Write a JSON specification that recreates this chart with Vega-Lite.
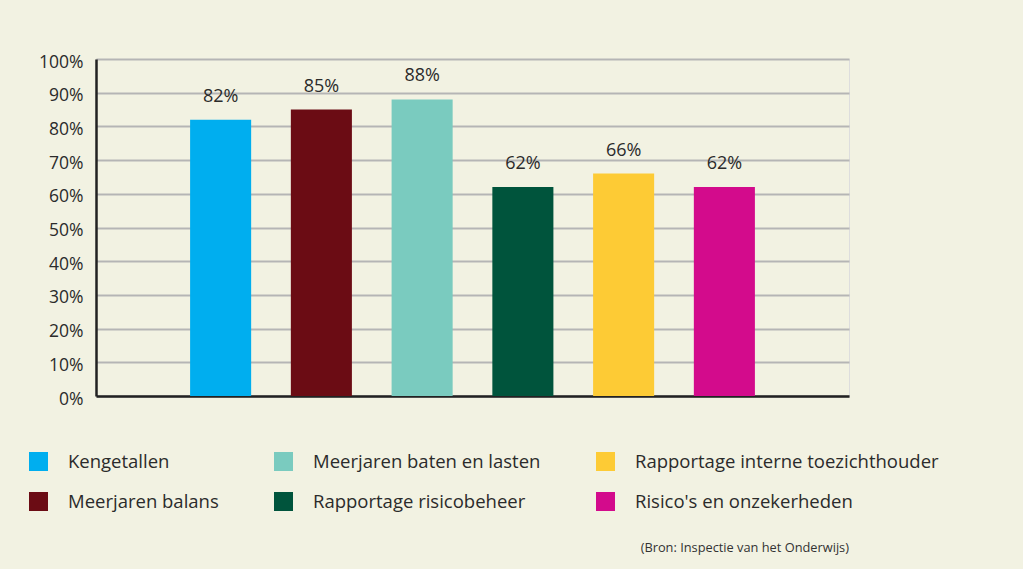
{
  "$schema": "https://vega.github.io/schema/vega-lite/v6.json",
  "width": 753,
  "height": 337,
  "autosize": {"type": "none"},
  "padding": {"left": 96, "top": 59, "right": 174, "bottom": 173},
  "background": "#f2f2e2",
  "data": {
    "values": [
      {"categorie": "Kengetallen", "waarde": 82, "label": "82%"},
      {"categorie": "Meerjaren balans", "waarde": 85, "label": "85%"},
      {"categorie": "Meerjaren baten en lasten", "waarde": 88, "label": "88%"},
      {"categorie": "Rapportage risicobeheer", "waarde": 62, "label": "62%"},
      {"categorie": "Rapportage interne toezichthouder", "waarde": 66, "label": "66%"},
      {"categorie": "Risico's en onzekerheden", "waarde": 62, "label": "62%"}
    ]
  },
  "title": {
    "text": "(Bron: Inspectie van het Onderwijs)",
    "orient": "bottom",
    "anchor": "end",
    "frame": "group",
    "offset": 31,
    "font": "Open Sans",
    "fontSize": 12.8,
    "fontWeight": "normal",
    "color": "#333333"
  },
  "encoding": {
    "x": {
      "field": "categorie",
      "type": "nominal",
      "sort": ["Kengetallen", "Meerjaren balans", "Meerjaren baten en lasten", "Rapportage risicobeheer", "Rapportage interne toezichthouder", "Risico's en onzekerheden"],
      "scale": {"paddingInner": 0.394, "paddingOuter": 0.934},
      "axis": {"labels": false, "ticks": false, "title": null, "domain": true, "domainColor": "#222222", "domainWidth": 2.5, "grid": false}
    },
    "y": {
      "field": "waarde",
      "type": "quantitative",
      "scale": {"domain": [0, 100]},
      "axis": {
        "values": [0, 10, 20, 30, 40, 50, 60, 70, 80, 90, 100],
        "labelExpr": "datum.value + '%'",
        "title": null,
        "ticks": false,
        "domain": true,
        "domainColor": "#222222",
        "domainWidth": 2.5,
        "grid": true,
        "gridColor": "#b5b5b5",
        "gridWidth": 2,
        "labelPadding": 13,
        "labelFont": "Open Sans",
        "labelFontSize": 17.5,
        "labelColor": "#2b2b2b",
        "labelBaseline": "middle",
        "labelOffset": 3
      }
    }
  },
  "layer": [
    {
      "mark": {"type": "bar"},
      "encoding": {
        "color": {
          "field": "categorie",
          "type": "nominal",
          "scale": {
            "domain": ["Kengetallen", "Meerjaren balans", "Meerjaren baten en lasten", "Rapportage risicobeheer", "Rapportage interne toezichthouder", "Risico's en onzekerheden"],
            "range": ["#00aeef", "#6b0c14", "#7acbbf", "#00543c", "#fdcb35", "#d30b8c"]
          },
          "legend": {
            "title": null,
            "orient": "none",
            "legendX": -67,
            "legendY": 393,
            "columns": 3,
            "columnPadding": 55,
            "rowPadding": 21,
            "symbolType": "square",
            "symbolSize": 361,
            "symbolStrokeWidth": 0,
            "symbolOpacity": 1,
            "labelOffset": 20,
            "labelFont": "Open Sans",
            "labelFontSize": 18.5,
            "labelColor": "#2b2b2b",
            "labelLimit": 400
          }
        }
      }
    },
    {
      "mark": {"type": "text", "baseline": "bottom", "dy": -14, "font": "Open Sans", "fontSize": 18, "color": "#2b2b2b"},
      "encoding": {
        "text": {"field": "label", "type": "nominal"}
      }
    }
  ]
}
